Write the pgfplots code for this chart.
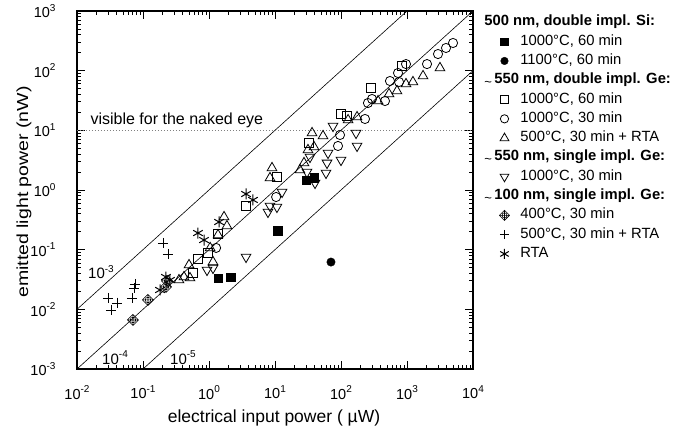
\documentclass[border=0pt]{standalone}
\usepackage{fontspec}
\setmainfont{Liberation Sans}
\usepackage{pgfplots}
\pgfplotsset{compat=1.18}
\pgfdeclareplotmark{dop}{%
  \pgfpathmoveto{\pgfqpoint{\pgfplotmarksize}{0pt}}%
  \pgfpathlineto{\pgfqpoint{0pt}{\pgfplotmarksize}}%
  \pgfpathlineto{\pgfqpoint{-\pgfplotmarksize}{0pt}}%
  \pgfpathlineto{\pgfqpoint{0pt}{-\pgfplotmarksize}}%
  \pgfpathclose
  \pgfpathcircle{\pgfpointorigin}{0.5\pgfplotmarksize}%
  \pgfpathmoveto{\pgfqpoint{\pgfplotmarksize}{0pt}}\pgfpathlineto{\pgfqpoint{-\pgfplotmarksize}{0pt}}%
  \pgfpathmoveto{\pgfqpoint{0pt}{\pgfplotmarksize}}\pgfpathlineto{\pgfqpoint{0pt}{-\pgfplotmarksize}}%
  \pgfusepathqstroke}
\newcommand{\tl}{{\normalfont\fontsize{13}{14}\selectfont\raisebox{-2.5pt}{\textasciitilde}}\,}
\newcommand{\ex}[1]{\raisebox{0.45em}{\fontsize{10}{11}\selectfont #1}}
\begin{document}
\begin{tikzpicture}[x=1pt,y=1pt]
\useasboundingbox (-77,-64) rectangle (598,369);
\begin{axis}[
  at={(0,0)}, anchor=south west,
  scale only axis, width=396pt, height=358pt,
  xmode=log, ymode=log,
  xmin=0.01, xmax=10000, ymin=0.001, ymax=1000,
  log number format basis/.code 2 args={#1\ex{\pgfmathprintnumber[assume math mode=true]{#2}}},
  tick align=inside, major tick length=8pt, minor tick length=4.5pt,
  axis line style={line width=1.1pt},
  every tick/.style={black, line width=0.8pt},
  tick label style={font=\fontsize{14.5}{17}\selectfont},
  yticklabel style={xshift=-18pt},
  xticklabel style={yshift=-13pt},
  legend style={draw=none, fill=none, at={(axis description cs:1.058,0.994)}, anchor=north west,
    inner sep=0pt, font=\fontsize{14.8}{17}\selectfont, row sep=1.3pt,
    nodes={inner sep=1.5pt, text height=11pt, text depth=4pt},
    /tikz/every odd column/.append style={column sep=6pt}},
  legend cell align=left,
  legend image code/.code={\path (0cm,0cm) (0.55cm,0cm);
    \draw[mark repeat=2,mark phase=2,#1,/tikz/every mark/.append style={scale=0.9}] plot coordinates {(0cm,0cm) (0.275cm,0cm) (0.55cm,0cm)};},
]
% efficiency lines
\addplot[forget plot, black, line width=0.6pt] coordinates {(0.01,0.01) (1000,1000)};
\addplot[forget plot, black, line width=0.6pt] coordinates {(0.01,0.001) (10000,1000)};
\addplot[forget plot, black, line width=0.6pt] coordinates {(0.1,0.001) (10000,100)};
\addplot[forget plot, gray, line width=0.6pt, dash pattern=on 1pt off 2pt] coordinates {(0.01,10) (10000,10)};

\addlegendimage{empty legend}\addlegendentry{\hspace{-36pt}\bfseries 500 nm, double impl. Si:}
\addplot[only marks, mark=square*, mark size=4.3pt, black] coordinates {
(1.37,0.0335)(2.15,0.0348)(11.1,0.206)(29.5,1.47)(39,1.59)};
\addlegendentry{1000°C, 60 min}
\addplot[only marks, mark=*, mark size=4.2pt, black] coordinates {(70.5,0.062)};
\addlegendentry{1100°C, 60 min}

\addlegendimage{empty legend}\addlegendentry{\hspace{-36pt}\tl\bfseries 550 nm, double impl. Ge:}
\addplot[only marks, mark=square, mark size=4.6pt, black, line width=0.8pt] coordinates {
(0.573,0.0407)(0.681,0.0698)(0.966,0.088)(1.37,0.183)(3.64,0.54)(10.7,1.65)(32.7,6.14)(100,18.8)(123,17.4)(285,51.3)(840,120)};
\addlegendentry{1000°C, 60 min}
\addplot[only marks, mark=o, mark size=4.6pt, black, line width=0.8pt] coordinates {
(1.28,0.107)(10.4,0.763)(90.1,5.47)(96.6,8.36)(231,15.5)(256,28.7)(295,33.5)(464,31)(552,67.1)(757,64.6)(731,91.4)(966,129)(2010,129)(2950,190)(3900,240)(4980,291)};
\addlegendentry{1000°C, 30 min}
\addplot[only marks, mark=triangle, mark size=5.6pt, black, line width=0.8pt] coordinates {
(0.351,0.031)(0.418,0.0348)(0.515,0.0335)(0.498,0.0553)(1.04,0.107)(1.15,0.0622)(1.37,0.176)(1.69,0.353)(1.87,0.249)(8.4,1.59)(9.01,2.34)(23.9,2.16)(27.5,2.84)(31.6,4.69)(36.4,9.02)(39,5.26)(53.4,8.04)(128,14.9)(175,16.7)(364,31)(534,40.6)(705,45.6)(966,59.8)(1230,64.6)(1750,81.4)(3160,111)};
\addlegendentry{500°C, 30 min + RTA}

\addlegendimage{empty legend}\addlegendentry{\hspace{-36pt}\tl\bfseries 550 nm, single impl. Ge:}
\addplot[only marks, mark=triangle, mark options={rotate=180}, mark size=5.6pt, black, line width=0.8pt] coordinates {
(0.933,0.0456)(1.15,0.0493)(3.64,0.0754)(7.83,0.428)(8.4,0.54)(10.7,0.519)(12.8,0.927)(30.5,2.0)(33.9,3.57)(40.4,1.31)(59.3,1.93)(61.4,2.84)(63.6,4.17)(75.7,11.8)(100,3.18)(169,9.02)(175,5.47)};
\addlegendentry{1000°C, 30 min}

\addlegendimage{empty legend}\addlegendentry{\hspace{-36pt}\tl\bfseries 100 nm, single impl. Ge:}
\addplot[only marks, mark=dop, mark size=5.6pt, black, line width=0.55pt] coordinates {
(0.0705,0.00663)(0.119,0.01435)(0.223,0.0237)(0.231,0.0299)};
\addlegendentry{400°C, 30 min}
\addplot[only marks, mark=+, mark size=5.2pt, black, line width=0.8pt] coordinates {
(0.0295,0.0155)(0.0327,0.00975)(0.0404,0.0128)(0.0681,0.0155)(0.0731,0.0228)(0.0757,0.0266)(0.201,0.129)(0.239,0.0847)};
\addlegendentry{500°C, 30 min + RTA}
\addplot[only marks, mark=asterisk, mark size=5.5pt, black, line width=1pt] coordinates {
(0.181,0.0211)(0.223,0.0348)(0.256,0.031)(0.681,0.19)(0.84,0.145)(1.42,0.291)(3.64,0.857)(4.64,0.681)};
\addlegendentry{RTA}

\node[anchor=west, font=\fontsize{16}{18}\selectfont] at (axis cs:0.0142,14.9) {visible for the naked eye};
\node[font=\fontsize{15}{16}\selectfont] at (axis cs:0.0231,0.0423) {10\ex{-3}};
\node[font=\fontsize{15}{16}\selectfont] at (axis cs:0.0377,0.00153) {10\ex{-4}};
\node[font=\fontsize{15}{16}\selectfont] at (axis cs:0.404,0.00153) {10\ex{-5}};
\end{axis}
\node[font=\fontsize{17.5}{20}\selectfont] at (197,-49) {electrical input power ( µW)};
\node[font=\fontsize{16}{18}\selectfont, rotate=90] at (-53,177) {\scalebox{1.22}[1]{emitted light power (nW)}};
\end{tikzpicture}
\end{document}
